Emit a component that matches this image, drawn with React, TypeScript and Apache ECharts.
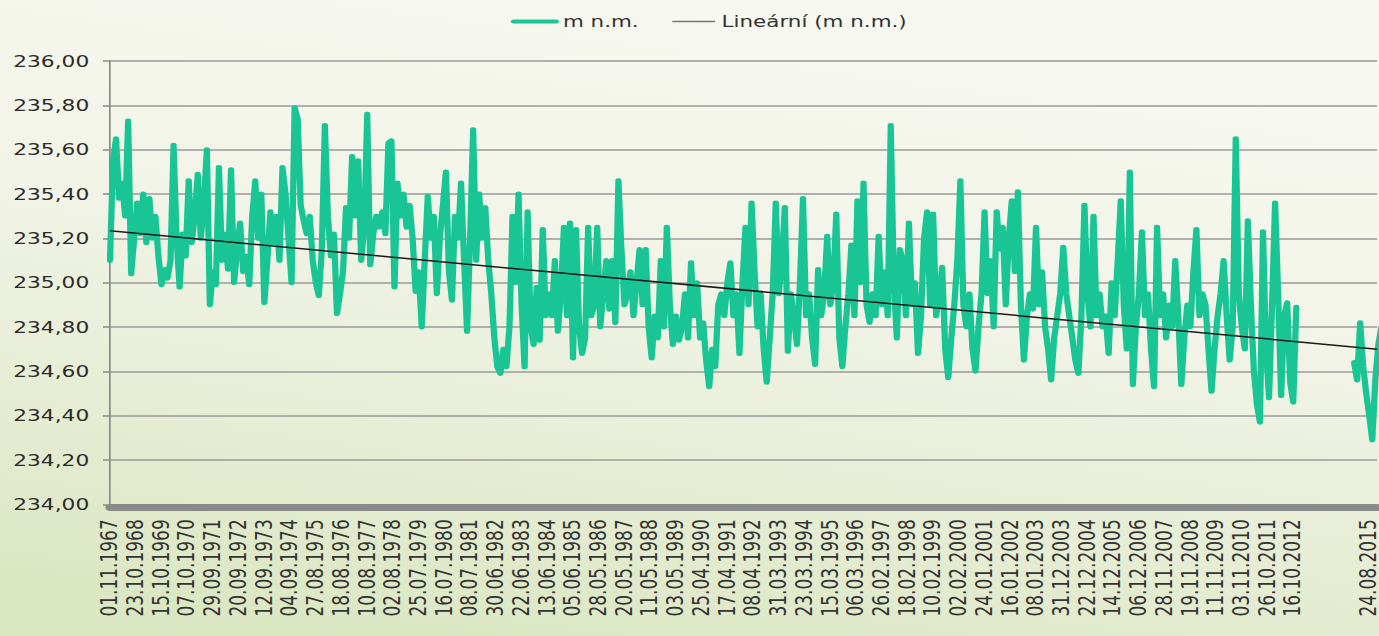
import { useEffect, useRef } from 'react';
import * as echarts from 'echarts';

// x tick labels (dates, DD.MM.YYYY)
const tickLabels = [
  '01.11.1967', '23.10.1968', '15.10.1969', '07.10.1970', '29.09.1971', '20.09.1972',
  '12.09.1973', '04.09.1974', '27.08.1975', '18.08.1976', '10.08.1977', '02.08.1978',
  '25.07.1979', '16.07.1980', '08.07.1981', '30.06.1982', '22.06.1983', '13.06.1984',
  '05.06.1985', '28.05.1986', '20.05.1987', '11.05.1988', '03.05.1989', '25.04.1990',
  '17.04.1991', '08.04.1992', '31.03.1993', '23.03.1994', '15.03.1995', '06.03.1996',
  '26.02.1997', '18.02.1998', '10.02.1999', '02.02.2000', '24.01.2001', '16.01.2002',
  '08.01.2003', '31.12.2003', '22.12.2004', '14.12.2005', '06.12.2006', '28.11.2007',
  '19.11.2008', '11.11.2009', '03.11.2010', '26.10.2011', '16.10.2012', '24.08.2015',
];

const yTicks = { min: 234, max: 236, step: 0.2 };
const axisStartDate = '1967-11-01';
const axisEndDate = '2015-12-25';

// water level samples (m n.m.), one every 42 days
const sampleStepDays = 42;
const levels1Start = '1967-11-01';
const levels1 = [
  235.10, 235.55, 235.65, 235.38, 235.45, 235.30, 235.73, 235.04, 235.20, 235.36,
  235.22, 235.40, 235.18, 235.38, 235.20, 235.30, 235.12, 234.99, 235.06, 235.02,
  235.10, 235.62, 235.20, 234.98, 235.22, 235.12, 235.46, 235.18, 235.30, 235.49,
  235.20, 235.35, 235.60, 234.90, 235.05, 234.99, 235.52, 235.10, 235.22, 235.06,
  235.51, 235.00, 235.15, 235.27, 235.05, 235.12, 234.99, 235.30, 235.46, 235.20,
  235.40, 234.91, 235.10, 235.32, 235.18, 235.30, 235.10, 235.52, 235.40, 235.20,
  235.00, 235.79, 235.74, 235.35, 235.28, 235.22, 235.30, 235.10, 235.00, 234.94,
  235.15, 235.71, 235.30, 235.12, 235.22, 234.86, 234.95, 235.05, 235.34, 235.20,
  235.57, 235.30, 235.55, 235.10, 235.25, 235.76, 235.08, 235.22, 235.30, 235.25,
  235.32, 235.22, 235.63, 235.64, 234.98, 235.45, 235.30, 235.40, 235.25, 235.35,
  235.20, 234.96, 235.05, 234.80, 235.10, 235.39, 235.20, 235.30, 234.95, 235.20,
  235.35, 235.50, 235.05, 234.92, 235.30, 235.20, 235.45, 235.10, 234.78, 235.20,
  235.69, 235.10, 235.40, 235.20, 235.34, 235.10, 234.95, 234.75, 234.62, 234.59,
  234.70, 234.62, 234.80, 235.30, 235.00, 235.40, 234.90, 234.62, 235.32, 234.80,
  234.72, 234.98, 234.74, 235.24, 234.85, 234.95, 234.85, 235.10, 234.78, 234.95,
  235.25, 234.85, 235.27, 234.66, 235.24, 234.80, 234.68, 234.75, 235.25, 234.85,
  234.90, 235.25, 234.80, 234.95, 235.10, 234.88, 235.10, 234.82, 235.46, 235.15,
  234.90, 234.95, 235.05, 234.85, 235.00, 235.15, 234.90, 235.15, 234.80, 234.66,
  234.85, 234.75, 235.10, 234.80, 235.25, 234.90, 234.72, 234.85, 234.74, 234.80,
  234.95, 234.75, 235.09, 234.85, 235.00, 234.75, 234.82, 234.65, 234.53, 234.70,
  234.62, 234.90, 234.95, 234.85, 235.00, 235.09, 234.85, 234.95, 234.68, 235.00,
  235.25, 234.90, 235.36, 235.05, 234.80, 234.95, 234.70, 234.55, 234.75, 234.95,
  235.36, 234.95, 235.10, 235.34, 234.69, 234.95, 234.85, 234.72, 235.00, 235.38,
  234.85, 234.95, 234.75, 234.63, 235.06, 234.85, 234.95, 235.21, 234.90, 235.00,
  235.31, 234.75, 234.62, 234.80, 234.95, 235.17, 234.85, 235.37, 235.00, 235.45,
  234.90, 234.82, 234.95, 234.85, 235.21, 234.90, 235.05, 234.85, 235.71, 235.00,
  234.75, 235.15, 235.10, 234.85, 235.27, 234.90, 235.00, 234.68, 234.85, 235.20,
  235.32, 234.90, 235.31, 234.85, 234.95, 235.07, 234.70, 234.57, 234.75, 234.90,
  235.10, 235.46, 234.90, 234.80, 234.95, 234.70, 234.60, 234.80, 234.95, 235.32,
  234.95, 235.10, 234.80, 235.32, 235.15, 235.25, 234.90, 235.20, 235.37, 235.05,
  235.41, 234.90, 234.65, 234.85, 234.95, 234.88, 235.25, 234.90, 235.05, 234.80,
  234.70, 234.56, 234.75, 234.85, 234.95, 235.16, 234.95, 234.85, 234.75, 234.65,
  234.59, 234.85, 235.35, 234.95, 234.80, 235.30, 234.85, 234.95, 234.80, 234.85,
  234.68, 235.00, 234.85, 235.10, 235.37, 234.90, 234.70, 235.50, 234.54, 234.80,
  234.95, 235.23, 234.85, 234.95, 234.70, 234.53, 235.25, 234.85, 234.95, 234.75,
  234.90, 234.80, 235.10, 234.85, 234.54, 234.75, 234.90, 234.80, 235.05, 235.24,
  234.85, 234.95, 234.90, 234.70, 234.51, 234.70, 234.85, 234.95, 235.10, 234.85,
  234.65, 234.80, 235.65, 234.95, 234.80, 234.70, 235.28, 234.90, 234.60, 234.45,
  234.37, 235.23, 234.70, 234.48, 234.90, 235.36, 234.95, 234.49, 234.85, 234.91,
  234.55, 234.46, 234.89,
];
const levels2Start = '2015-02-09';
const levels2 = [234.64, 234.56, 234.82, 234.62, 234.50, 234.40, 234.29, 234.56, 234.72, 234.80];

// linear trend end points
const trendDates = ['1967-11-01', '2015-12-25'];
const trendValues = [235.234, 234.70];

const SCALE_X = 1.3;
const W = 1379 / SCALE_X;
const H = 636;
const DAY = 86400000;
const FONT = "'DejaVu Sans', Verdana, sans-serif";
const GREEN = '#19c594';

const isoTs = (s: string) => {
  const [y, m, d] = s.split('-').map(Number);
  return Date.UTC(y, m - 1, d);
};
const czTs = (s: string) => {
  const [d, m, y] = s.split('.').map(Number);
  return Date.UTC(y, m - 1, d);
};

export default function App() {
  const ref = useRef<HTMLDivElement>(null);

  useEffect(() => {
    if (!ref.current) return;
    const chart = echarts.init(ref.current, null, { renderer: 'svg' });

    const labelMap: Record<number, string> = {};
    const tickValues = tickLabels.map((l) => {
      const t = czTs(l);
      labelMap[t] = l;
      return t;
    });

    const s1 = isoTs(levels1Start);
    const s2 = isoTs(levels2Start);
    const lineData: any[] = levels1.map((v, i) => [s1 + i * sampleStepDays * DAY, v]);
    lineData.push([s1 + levels1.length * sampleStepDays * DAY, '-']);
    levels2.forEach((v, i) => lineData.push([s2 + i * sampleStepDays * DAY, v]));

    const trendData = trendDates.map((d, i) => [isoTs(d), trendValues[i]]);

    chart.setOption({
      animation: false,
      graphic: [
        {
          type: 'rect',
          z: -100,
          silent: true,
          shape: { x: 0, y: 0, width: W, height: H },
          style: {
            fill: new echarts.graphic.LinearGradient(0.6, 0, 0.3, 1, [
              { offset: 0, color: '#f7f8f0' },
              { offset: 0.4, color: '#f2f4e8' },
              { offset: 1, color: '#dbe7c3' },
            ]),
          },
        },
      ],
      legend: {
        left: 388,
        top: 8,
        itemWidth: 33,
        itemHeight: 14,
        itemGap: 25,
        itemStyle: { opacity: 0 },
        textStyle: { fontSize: 16.5, color: '#333', fontFamily: FONT },
        data: [
          { name: 'm n.m.', itemStyle: { opacity: 0 }, lineStyle: { width: 4, color: GREEN } },
          { name: 'Lineární (m n.m.)', itemStyle: { opacity: 0 }, lineStyle: { width: 1.5, color: '#777' } },
        ],
      },
      grid: { left: 110 / SCALE_X, right: 0, top: 61, bottom: H - 504.3, containLabel: false },
      xAxis: {
        type: 'value',
        min: isoTs(axisStartDate),
        max: isoTs(axisEndDate),
        offset: 3,
        splitLine: { show: false },
        axisTick: { show: false },
        axisLine: { show: true, onZero: false, lineStyle: { color: '#8a8a8a', width: 7 } },
        axisLabel: {
          customValues: tickValues,
          rotate: 90,
          margin: 12,
          fontSize: 17,
          color: '#333',
          fontFamily: FONT,
          formatter: (v: number) => labelMap[v] ?? '',
        },
      },
      yAxis: {
        type: 'value',
        min: yTicks.min,
        max: yTicks.max,
        interval: yTicks.step,
        axisLine: { show: true, onZero: false, lineStyle: { color: '#8a8a8a', width: 1.3 } },
        axisTick: { show: true, length: 5.4, lineStyle: { color: '#8a8a8a', width: 1.5 } },
        splitLine: { show: true, lineStyle: { color: '#9a9a9a', width: 1.6 } },
        axisLabel: {
          margin: 16,
          fontSize: 16.7,
          color: '#2b2b2b',
          fontFamily: FONT,
          formatter: (v: number) => v.toFixed(2).replace('.', ','),
        },
      },
      series: [
        {
          name: 'm n.m.',
          type: 'line',
          data: lineData,
          symbol: 'none',
          connectNulls: false,
          clip: true,
          lineStyle: { color: GREEN, width: 4.8, join: 'round', cap: 'round' },
          itemStyle: { color: GREEN },
          z: 3,
        },
        {
          name: 'Lineární (m n.m.)',
          type: 'line',
          data: trendData,
          symbol: 'none',
          clip: true,
          lineStyle: { color: '#1a1a1a', width: 1.5 },
          itemStyle: { color: '#777' },
          z: 4,
        },
      ],
    });

    return () => chart.dispose();
  }, []);

  return (
    <div
      ref={ref}
      style={{
        position: 'absolute',
        left: 0,
        top: 0,
        width: W,
        height: H,
        transform: `scaleX(${SCALE_X})`,
        transformOrigin: '0 0',
      }}
    />
  );
}
